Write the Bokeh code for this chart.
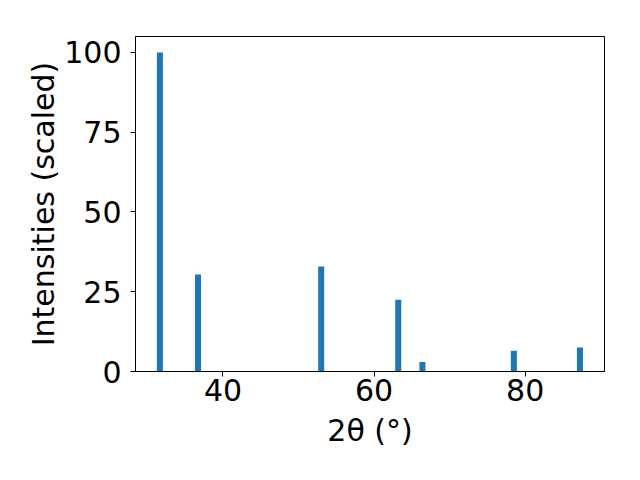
from bokeh.plotting import figure
from bokeh.models import FixedTicker, Range1d
from bokeh.embed import file_html
from bokeh.resources import INLINE

two_theta = [31.65, 36.7, 53.0, 63.2, 66.4, 78.5, 87.25]
intensity = [100.0, 30.4, 32.9, 22.5, 3.0, 6.5, 7.5]
bar_width = 0.8
x_ticks = [40, 60, 80]
y_ticks = [0, 25, 50, 75, 100]

p = figure(width=624, height=464, output_backend="svg", toolbar_location=None,
           x_range=Range1d(28.42, 90.5), y_range=Range1d(0, 105),
           min_border_left=135, min_border_right=20, min_border_top=36,
           min_border_bottom=93)

p.vbar(x=two_theta, top=intensity, width=bar_width, bottom=0,
       fill_color="#1f77b4", line_color=None)

p.xgrid.visible = False
p.ygrid.visible = False
p.outline_line_color = "black"
p.outline_line_width = 1
p.background_fill_color = "white"
p.border_fill_color = "white"

for ax in (p.xaxis[0], p.yaxis[0]):
    ax.axis_line_color = "black"
    ax.major_tick_line_color = "black"
    ax.major_tick_out = 5
    ax.major_tick_in = 0
    ax.minor_tick_line_color = None
    ax.major_label_text_font = "DejaVu Sans"
    ax.major_label_text_font_size = "30px"
    ax.major_label_text_color = "black"
    ax.axis_label_text_font = "DejaVu Sans"
    ax.axis_label_text_font_size = "30px"
    ax.axis_label_text_font_style = "normal"
    ax.axis_label_text_color = "black"

p.xaxis[0].ticker = FixedTicker(ticks=x_ticks)
p.yaxis[0].ticker = FixedTicker(ticks=y_ticks)
p.xaxis.axis_label = "2θ (°)"
p.yaxis.axis_label = "Intensities (scaled)"
p.xaxis.major_label_standoff = 2
p.yaxis.major_label_standoff = 9
p.xaxis.axis_label_standoff = 9
p.yaxis.axis_label_standoff = 0

open("out.html", "w").write(file_html(p, INLINE))
